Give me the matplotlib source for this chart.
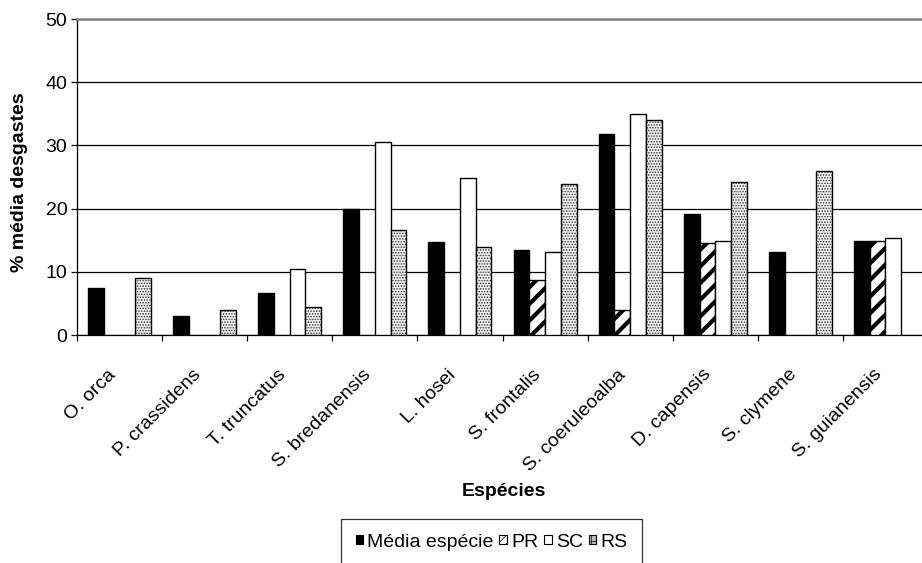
import numpy as np
import matplotlib
matplotlib.use("Agg")
from matplotlib import pyplot as plt
from matplotlib.patches import Patch

plt.rcParams['font.family'] = ['Liberation Sans', 'DejaVu Sans']

especies = ['O. orca', 'P. crassidens', 'T. truncatus', 'S. bredanensis', 'L. hosei',
            'S. frontalis', 'S. coeruleoalba', 'D. capensis', 'S. clymene', 'S. guianensis']

# NaN = no value for that species
media = [7.4, 3.0, 6.6, 19.9, 14.7, 13.4, 31.8, 19.1, 13.2, 14.9]
pr = [np.nan, np.nan, np.nan, np.nan, np.nan, 8.7, 3.9, 14.6, np.nan, 14.9]
sc = [np.nan, np.nan, 10.5, 30.5, 24.9, 13.1, 34.9, 14.9, np.nan, 15.4]
rs = [9.0, 3.9, 4.4, 16.6, 13.9, 23.9, 34.0, 24.2, 25.9, np.nan]

fs = 14

fig = plt.figure(figsize=(9.22, 5.63), dpi=100)
ax = fig.add_axes([77 / 922, 1 - 335 / 563, 851 / 922, 316 / 563])

x = np.arange(len(especies))
w = 0.185
off = [(i - 1.5) * w for i in range(4)]

ax.bar(x + off[0], media, w, facecolor='black', edgecolor='black', linewidth=1.0, zorder=3)

plt.rcParams['hatch.linewidth'] = 3.0
ax.bar(x + off[1], pr, w, facecolor='white', edgecolor='black', hatch='//', linewidth=1.0, zorder=3)

ax.bar(x + off[2], sc, w, facecolor='white', edgecolor='black', linewidth=1.0, zorder=3)

# RS: fine grey stipple, outline drawn separately in black
plt.rcParams['hatch.linewidth'] = 0.7
ax.bar(x + off[3], rs, w, facecolor='#f0f0f0', edgecolor='#303030', hatch='......', linewidth=0, zorder=3)
ax.bar(x + off[3], rs, w, fill=False, edgecolor='black', linewidth=1.0, zorder=4)

plt.rcParams['hatch.linewidth'] = 1.5
h_media = Patch(facecolor='black', edgecolor='black', linewidth=0.8, label='Média espécie')
h_pr = Patch(facecolor='white', edgecolor='black', hatch='////', linewidth=0.8, label='PR')
h_sc = Patch(facecolor='white', edgecolor='black', linewidth=0.8, label='SC')
plt.rcParams['hatch.linewidth'] = 0.5
h_rs = Patch(facecolor='#bdbdbd', edgecolor='black', hatch='+', linewidth=0.8, label='RS')
handles = [h_media, h_pr, h_sc, h_rs]

ax.set_xlim(-0.5, len(especies) - 0.5)
ax.set_ylim(0, 50)
ax.set_yticks(range(0, 51, 10))
ax.yaxis.grid(True, color='black', linewidth=0.9, zorder=0)
ax.tick_params(axis='y', labelsize=fs, length=4, width=0.9, pad=3, direction='out')

# category boundaries get the tick marks, the names sit between them
ax.set_xticks(np.arange(-0.5, len(especies) - 0.4, 1.0))
ax.set_xticklabels([])
ax.set_xticks(x - 0.04, minor=True)
ax.set_xticklabels(especies, minor=True, rotation=45, ha='right', va='baseline',
                   rotation_mode='anchor', fontsize=fs)
ax.tick_params(axis='x', which='major', length=4, width=0.9, direction='out')
ax.tick_params(axis='x', which='minor', length=0, pad=29)

ax.spines['right'].set_visible(False)
ax.spines['top'].set_color('#808080')
ax.spines['top'].set_linewidth(1.8)
ax.spines['left'].set_linewidth(0.9)
ax.spines['bottom'].set_linewidth(0.9)

fig.text(19 / 922, 1 - 182 / 563, '% média desgastes', rotation=90, fontsize=fs,
         fontweight='bold', ha='center', va='center')
fig.text(504 / 922, 1 - 491 / 563, 'Espécies', fontsize=fs, fontweight='bold',
         ha='center', va='center')

leg = fig.legend(handles=handles, loc='upper left', bbox_to_anchor=(341 / 922, 1 - 519 / 563),
                 ncol=4, fontsize=fs, handlelength=0.4, handleheight=0.35, handletextpad=0.2,
                 columnspacing=0.3, borderpad=0.75, borderaxespad=0, frameon=True, fancybox=False)
leg.get_frame().set_edgecolor('black')
leg.get_frame().set_linewidth(0.9)

fig.savefig('out.png', dpi=100)
